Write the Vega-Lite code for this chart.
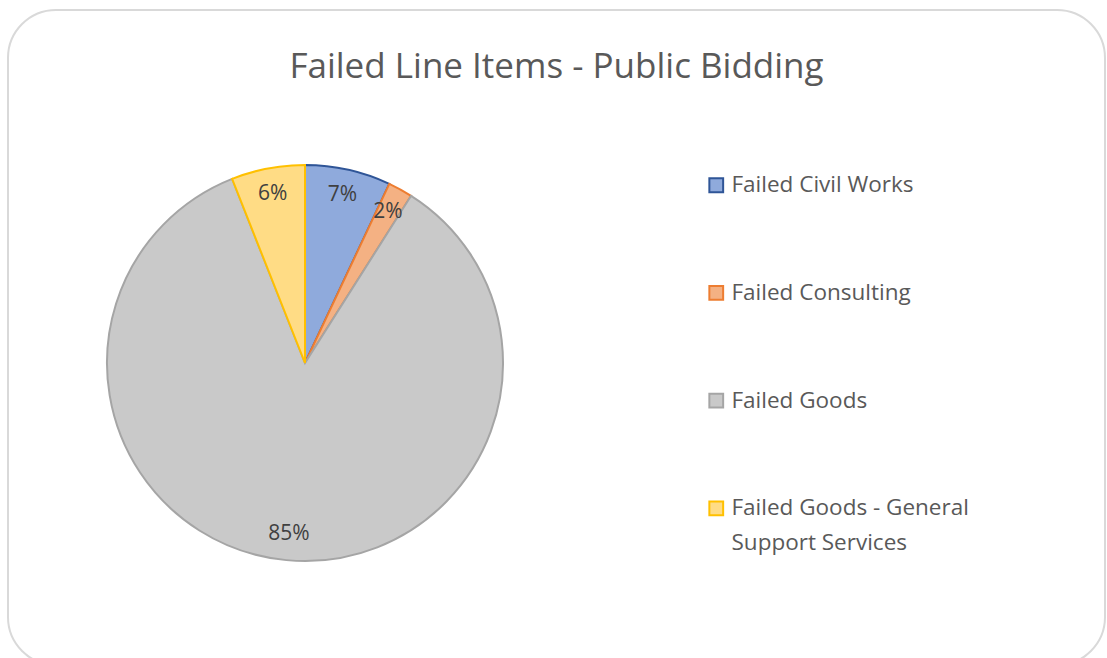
{
  "$schema": "https://vega.github.io/schema/vega-lite/v6.json",
  "autosize": "none",
  "width": 1097,
  "height": 655,
  "padding": {"left": 8, "top": 10, "right": 2, "bottom": 0},
  "background": "white",
  "view": {"stroke": "#d9d9d9", "strokeWidth": 2, "cornerRadius": 48, "fill": "white"},
  "config": {
    "font": "Open Sans"
  },
  "title": {
    "text": "Failed Line Items - Public Bidding",
    "fontSize": 35,
    "fontWeight": "normal",
    "color": "#595959",
    "anchor": "middle",
    "offset": -75,
    "font": "Open Sans"
  },
  "data": {
    "values": [
      {"category": "Failed Civil Works", "share": 0.07},
      {"category": "Failed Consulting", "share": 0.02},
      {"category": "Failed Goods", "share": 0.85},
      {"category": "Failed Goods - General Support Services", "share": 0.06}
    ]
  },
  "encoding": {
    "theta": {"field": "share", "type": "quantitative", "stack": true}
  },
  "layer": [
    {
      "mark": {"type": "arc", "outerRadius": 198, "x": 297, "y": 353, "strokeWidth": 2},
      "encoding": {
        "fill": {
          "field": "category",
          "type": "nominal",
          "scale": {
            "domain": ["Failed Civil Works", "Failed Consulting", "Failed Goods", "Failed Goods - General Support Services"],
            "range": ["#8faadc", "#f4b183", "#c9c9c9", "#ffdc85"]
          },
          "legend": {
            "orient": "none",
            "legendX": 697,
            "legendY": 164,
            "title": null,
            "padding": 0,
            "symbolType": "square",
            "symbolSize": 190,
            "symbolStrokeWidth": 2,
            "labelFontSize": 22.5,
            "labelFont": "Open Sans",
            "labelColor": "#595959",
            "labelOffset": 4,
            "labelLimit": 400,
            "rowPadding": 84.7,
            "labelExpr": "datum.label == 'Failed Goods - General Support Services' ? ['Failed Goods - General', 'Support Services'] : datum.label",
            "encode": {"labels": {"update": {"lineHeight": {"value": 35}}}}
          }
        },
        "stroke": {
          "field": "category",
          "type": "nominal",
          "scale": {
            "domain": ["Failed Civil Works", "Failed Consulting", "Failed Goods", "Failed Goods - General Support Services"],
            "range": ["#2f5597", "#ed7d31", "#a5a5a5", "#ffc000"]
          },
          "legend": null
        },
        "order": {"field": "category", "type": "nominal", "sort": "ascending"}
      }
    },
    {
      "mark": {"type": "text", "radius": 172, "x": 297, "y": 353, "fontSize": 21, "color": "#404040", "font": "Open Sans"},
      "encoding": {
        "text": {"field": "share", "type": "quantitative", "format": ".0%"},
        "order": {"field": "category", "type": "nominal", "sort": "ascending"}
      }
    }
  ]
}
